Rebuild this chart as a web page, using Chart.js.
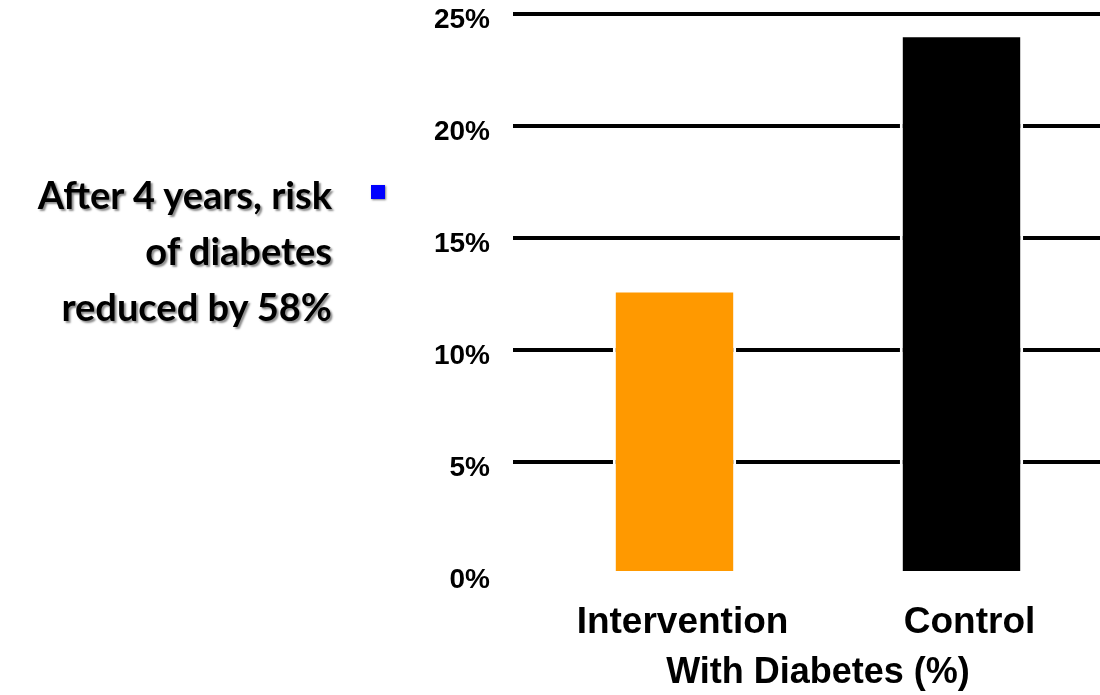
<!DOCTYPE html>
<html>
<head>
<meta charset="utf-8">
<script src="https://cdn.jsdelivr.net/npm/chart.js@4"></script>
<style>
    html, body { margin: 0; padding: 0; background: #fff; overflow: hidden; }
    #wrap { position: relative; width: 1100px; height: 695px; overflow: hidden; }
    #grafico { position: absolute; left: 0; top: 0; }
    #nota {
        position: absolute; right: 768px; top: 166px;
        font-family: Lato, "Open Sans", sans-serif; font-weight: bold;
        font-size: 38px; line-height: 56px; text-align: right; color: #000;
        text-shadow: 2px 2px 2px rgba(0, 0, 0, 0.45);
        white-space: nowrap;
    }
    #marcador {
        position: absolute; left: 371px; top: 185px; width: 14px; height: 14px;
        background: #0000ff; box-shadow: 1px 1px 2px rgba(0, 0, 0, 0.5);
    }
</style>
</head>
<body>
<div id="wrap">
    <canvas id="grafico" width="1105" height="695"></canvas>
    <div id="nota">After 4 years, risk<br>of diabetes<br>reduced by 58%</div>
    <div id="marcador"></div>
</div>
<script>
// dados
const categorias = ['Intervention', 'Control'];
const valores = [12.7, 24.1];
const cores = ['#ff9900', '#000000'];
const ticksY = [0, 5, 10, 15, 20, 25];

const ctx = document.getElementById('grafico').getContext('2d');

new Chart(ctx, {
    type: 'bar',
    data: {
        labels: categorias,
        datasets: [{
            data: valores,
            backgroundColor: cores,
            borderColor: '#ffffff',
            borderWidth: 3,
            borderSkipped: false,
            barPercentage: 0.43,
            categoryPercentage: 1
        }]
    },
    options: {
        responsive: false,
        animation: false,
        layout: { padding: { top: 14, left: 0, right: 0, bottom: 0 } },
        plugins: {
            legend: { display: false },
            tooltip: { enabled: false }
        },
        scales: {
            x: {
                grid: { display: false },
                border: { display: false },
                ticks: {
                    color: '#000',
                    padding: 19,
                    labelOffset: 8,
                    maxRotation: 0,
                    autoSkip: false,
                    font: { family: '"Liberation Sans", Arial, sans-serif', size: 37, weight: 'bold' }
                },
                title: {
                    display: true,
                    text: 'With Diabetes (%)',
                    color: '#000',
                    padding: { top: 13, bottom: 0 },
                    font: { family: '"Liberation Sans", Arial, sans-serif', size: 36, weight: 'bold' }
                },
                afterFit: (scale) => {
                    scale.height = 121;
                    scale.paddingLeft = 0;
                    scale.paddingRight = 0;
                }
            },
            y: {
                min: 0,
                max: 25,
                afterBuildTicks: (scale) => { scale.ticks = ticksY.map(v => ({ value: v })); },
                border: { display: false },
                grid: {
                    color: '#000',
                    lineWidth: (c) => (c.tick && c.tick.value === 0 ? 0 : 4),
                    drawTicks: true,
                    tickLength: 18,
                    tickColor: '#000'
                },
                ticks: {
                    color: '#000',
                    padding: 23,
                    labelOffset: 6,
                    callback: (v) => v + '%',
                    font: { family: '"Liberation Sans", Arial, sans-serif', size: 28, weight: 'bold', lineHeight: 1 }
                },
                afterFit: (scale) => {
                    scale.width = 531;
                    scale.paddingTop = 0;
                    scale.paddingBottom = 0;
                }
            }
        }
    }
});
</script>
</body>
</html>
